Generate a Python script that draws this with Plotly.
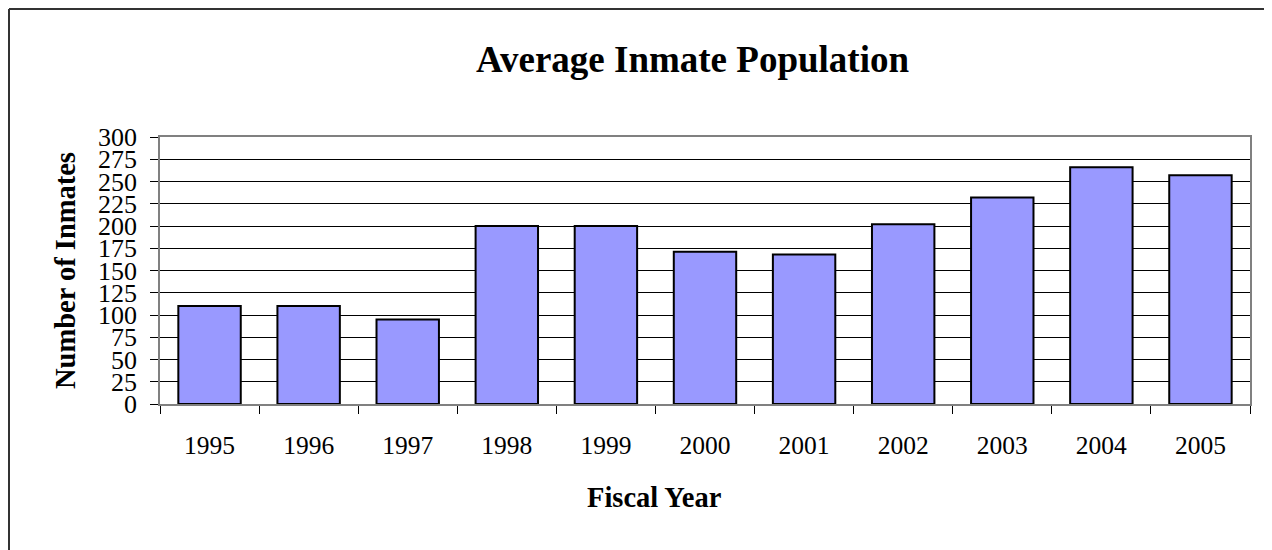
import plotly.graph_objects as go

years = ["1995", "1996", "1997", "1998", "1999", "2000", "2001", "2002", "2003", "2004", "2005"]
inmates = [110, 110, 95, 200, 200, 171, 168, 202, 232, 266, 257]
y_ticks = list(range(0, 301, 25))

# The page puts the figure 8 px in from the top-left corner of the window.
OFF = 8
W, H = 1272 - OFF, 550 - OFF
# plot area in window pixels: x 160..1250, y 137..404
L, T = 160 - OFF, 137 - OFF
R, B = W - (1250 - OFF), H - (404 - OFF)
pw, ph = W - L - R, H - T - B

def px_x(x):
    return (x - OFF - L) / pw

def px_y(y):
    return 1 + (T - (y - OFF)) / ph

serif = "Liberation Serif, Times New Roman, serif"

fig = go.Figure(go.Bar(
    x=years, y=inmates,
    marker=dict(color="#9999FF", line=dict(color="black", width=2)),
    width=0.63,
))

fig.update_layout(
    width=W, height=H,
    margin=dict(l=L, r=R, t=T, b=B),
    paper_bgcolor="white", plot_bgcolor="white",
    showlegend=False,
    font=dict(family=serif, color="black"),
    xaxis=dict(
        type="category",
        showgrid=False,
        ticks="outside", tickson="boundaries", ticklen=8, tickcolor="black",
        showline=True, linecolor="#808080", linewidth=1.5, mirror=True,
        tickfont=dict(size=25.5, family=serif),
        ticklabelstandoff=18,
    ),
    yaxis=dict(
        range=[0, 300], tickvals=y_ticks, ticktext=[str(v) for v in y_ticks],
        showgrid=True, gridcolor="black", gridwidth=1,
        ticks="outside", ticklen=8, tickcolor="black",
        showline=True, linecolor="#808080", linewidth=1.5, mirror=True,
        tickfont=dict(size=26, family=serif),
        ticklabelstandoff=8,
        zeroline=False,
    ),
    annotations=[
        dict(text="<b>Average Inmate Population</b>", xref="paper", yref="paper",
             x=px_x(692), y=px_y(60), xanchor="center", yanchor="middle",
             showarrow=False, font=dict(size=37, family=serif)),
        dict(text="<b>Fiscal Year</b>", xref="paper", yref="paper",
             x=px_x(654), y=px_y(497), xanchor="center", yanchor="middle",
             showarrow=False, font=dict(size=28.5, family=serif)),
        dict(text="<b>Number of Inmates</b>", xref="paper", yref="paper",
             x=px_x(65), y=px_y(271), xanchor="center", yanchor="middle",
             textangle=-90, showarrow=False, font=dict(size=28.5, family=serif)),
    ],
    shapes=[
        dict(type="line", xref="paper", yref="paper",
             x0=px_x(OFF + 1), x1=px_x(OFF + 1), y0=px_y(OFF + 1), y1=px_y(600),
             line=dict(color="#333333", width=2)),
        dict(type="line", xref="paper", yref="paper",
             x0=px_x(OFF + 1), x1=px_x(1300), y0=px_y(OFF + 1), y1=px_y(OFF + 1),
             line=dict(color="#333333", width=2)),
    ],
)

fig.write_html("out.html")
